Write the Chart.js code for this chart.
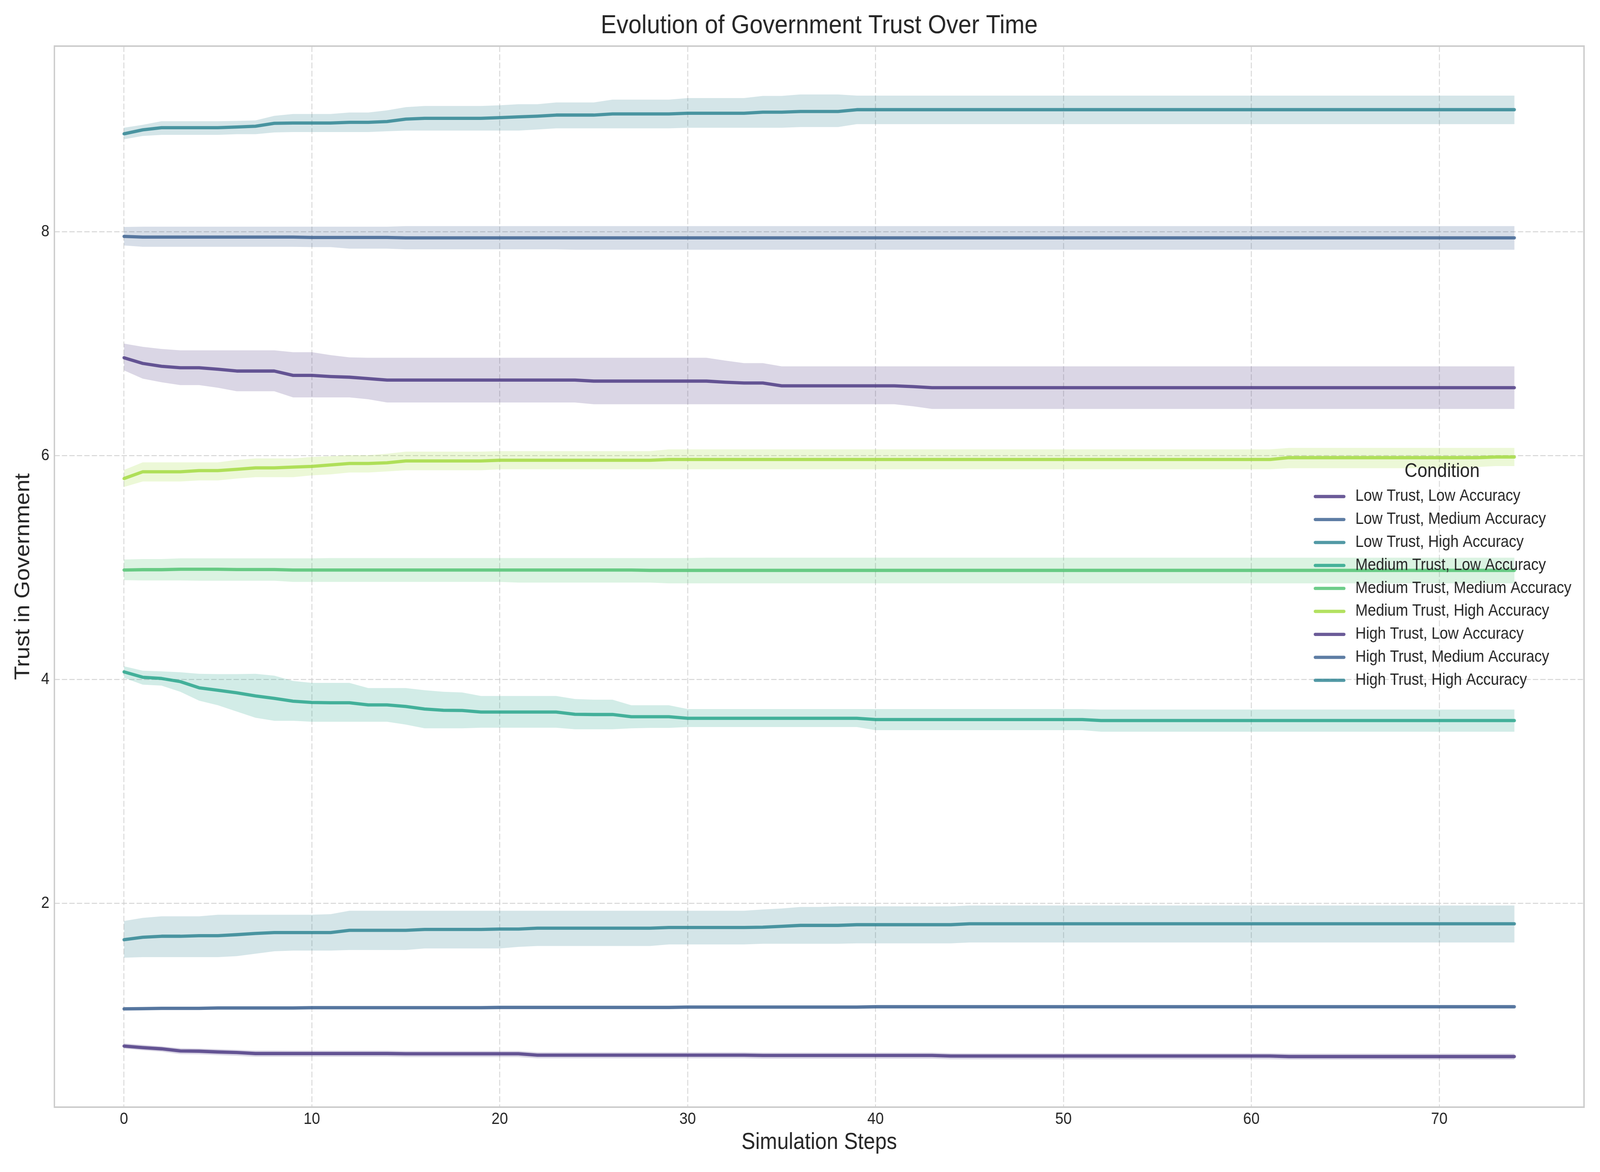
<!DOCTYPE html>
<html>
<head>
<meta charset="utf-8">
<title>Evolution of Government Trust Over Time</title>
<script src="https://cdn.jsdelivr.net/npm/chart.js@4.4.1/dist/chart.umd.min.js"></script>
<style>
  html, body { margin: 0; padding: 0; background: #ffffff; overflow: hidden; }
  /* drawn at 4500x3000, shown across the whole viewport */
  #trustChart { display: block; width: 100vw !important; height: 100vh !important; }
</style>
</head>
<body>
<canvas id="trustChart" width="4500" height="3000" style="width:100vw;height:100vh"></canvas>
<script>
// Simulation steps (x values)
const steps = [
    0, 1, 2, 3, 4, 5, 6, 7, 8, 9, 10, 11, 12, 13, 14,
    15, 16, 17, 18, 19, 20, 21, 22, 23, 24, 25, 26, 27, 28, 29,
    30, 31, 32, 33, 34, 35, 36, 37, 38, 39, 40, 41, 42, 43, 44,
    45, 46, 47, 48, 49, 50, 51, 52, 53, 54, 55, 56, 57, 58, 59,
    60, 61, 62, 63, 64, 65, 66, 67, 68, 69, 70, 71, 72, 73, 74
];

const xTicks = [0, 10, 20, 30, 40, 50, 60, 70];
const yTicks = [2, 4, 6, 8];

const conditions = [
    'Low Trust, Low Accuracy',
    'Low Trust, Medium Accuracy',
    'Low Trust, High Accuracy',
    'Medium Trust, Low Accuracy',
    'Medium Trust, Medium Accuracy',
    'Medium Trust, High Accuracy',
    'High Trust, Low Accuracy',
    'High Trust, Medium Accuracy',
    'High Trust, High Accuracy'
];

// Low Trust, Low Accuracy
const lowLowMean = [
    0.724, 0.710, 0.699, 0.680, 0.678, 0.671, 0.666, 0.657, 0.657, 0.657, 0.657, 0.657, 0.657, 0.657, 0.657,
    0.655, 0.655, 0.655, 0.655, 0.655, 0.655, 0.655, 0.643, 0.643, 0.643, 0.643, 0.643, 0.643, 0.643, 0.643,
    0.643, 0.643, 0.643, 0.643, 0.640, 0.640, 0.640, 0.640, 0.640, 0.640, 0.640, 0.640, 0.640, 0.640, 0.635,
    0.635, 0.635, 0.635, 0.635, 0.635, 0.635, 0.635, 0.635, 0.635, 0.635, 0.635, 0.635, 0.635, 0.635, 0.635,
    0.635, 0.635, 0.630, 0.630, 0.630, 0.630, 0.630, 0.630, 0.630, 0.630, 0.630, 0.630, 0.630, 0.630, 0.630
];
const lowLowUpper = [
    0.748, 0.735, 0.722, 0.705, 0.702, 0.696, 0.690, 0.683, 0.683, 0.682, 0.682, 0.682, 0.682, 0.682, 0.682,
    0.680, 0.680, 0.680, 0.680, 0.680, 0.680, 0.680, 0.668, 0.668, 0.668, 0.668, 0.668, 0.668, 0.668, 0.668,
    0.668, 0.668, 0.668, 0.668, 0.665, 0.665, 0.665, 0.665, 0.665, 0.665, 0.665, 0.665, 0.665, 0.665, 0.660,
    0.660, 0.660, 0.660, 0.660, 0.660, 0.660, 0.660, 0.660, 0.660, 0.660, 0.660, 0.660, 0.660, 0.660, 0.660,
    0.660, 0.660, 0.656, 0.656, 0.656, 0.656, 0.656, 0.656, 0.656, 0.656, 0.656, 0.656, 0.656, 0.656, 0.656
];
const lowLowLower = [
    0.702, 0.686, 0.674, 0.652, 0.650, 0.643, 0.637, 0.628, 0.628, 0.628, 0.628, 0.628, 0.628, 0.628, 0.628,
    0.626, 0.626, 0.626, 0.626, 0.626, 0.626, 0.626, 0.614, 0.614, 0.614, 0.614, 0.614, 0.614, 0.614, 0.614,
    0.614, 0.614, 0.614, 0.614, 0.611, 0.611, 0.611, 0.611, 0.611, 0.611, 0.611, 0.611, 0.611, 0.611, 0.606,
    0.606, 0.606, 0.606, 0.606, 0.606, 0.606, 0.606, 0.606, 0.606, 0.606, 0.606, 0.606, 0.606, 0.606, 0.606,
    0.606, 0.606, 0.602, 0.602, 0.602, 0.602, 0.602, 0.602, 0.602, 0.602, 0.602, 0.602, 0.602, 0.602, 0.602
];

// Low Trust, Medium Accuracy
const lowMedMean = [
    1.056, 1.058, 1.061, 1.061, 1.061, 1.064, 1.064, 1.064, 1.064, 1.064, 1.067, 1.067, 1.067, 1.067, 1.067,
    1.067, 1.067, 1.067, 1.067, 1.067, 1.069, 1.069, 1.069, 1.069, 1.069, 1.069, 1.069, 1.069, 1.069, 1.069,
    1.072, 1.072, 1.072, 1.072, 1.072, 1.072, 1.072, 1.072, 1.072, 1.072, 1.075, 1.075, 1.075, 1.075, 1.075,
    1.075, 1.075, 1.075, 1.075, 1.075, 1.075, 1.075, 1.075, 1.075, 1.075, 1.075, 1.075, 1.075, 1.075, 1.075,
    1.075, 1.075, 1.075, 1.075, 1.075, 1.075, 1.075, 1.075, 1.075, 1.075, 1.075, 1.075, 1.075, 1.075, 1.075
];
const lowMedUpper = [
    1.072, 1.074, 1.077, 1.077, 1.077, 1.080, 1.080, 1.080, 1.080, 1.080, 1.083, 1.083, 1.083, 1.083, 1.083,
    1.083, 1.083, 1.083, 1.083, 1.083, 1.085, 1.085, 1.085, 1.085, 1.085, 1.085, 1.085, 1.085, 1.085, 1.085,
    1.088, 1.088, 1.088, 1.088, 1.088, 1.088, 1.088, 1.088, 1.088, 1.088, 1.091, 1.091, 1.091, 1.091, 1.091,
    1.091, 1.091, 1.091, 1.091, 1.091, 1.091, 1.091, 1.091, 1.091, 1.091, 1.091, 1.091, 1.091, 1.091, 1.091,
    1.091, 1.091, 1.091, 1.091, 1.091, 1.091, 1.091, 1.091, 1.091, 1.091, 1.091, 1.091, 1.091, 1.091, 1.091
];
const lowMedLower = [
    1.040, 1.042, 1.045, 1.045, 1.045, 1.048, 1.048, 1.048, 1.048, 1.048, 1.051, 1.051, 1.051, 1.051, 1.051,
    1.051, 1.051, 1.051, 1.051, 1.051, 1.053, 1.053, 1.053, 1.053, 1.053, 1.053, 1.053, 1.053, 1.053, 1.053,
    1.056, 1.056, 1.056, 1.056, 1.056, 1.056, 1.056, 1.056, 1.056, 1.056, 1.059, 1.059, 1.059, 1.059, 1.059,
    1.059, 1.059, 1.059, 1.059, 1.059, 1.059, 1.059, 1.059, 1.059, 1.059, 1.059, 1.059, 1.059, 1.059, 1.059,
    1.059, 1.059, 1.059, 1.059, 1.059, 1.059, 1.059, 1.059, 1.059, 1.059, 1.059, 1.059, 1.059, 1.059, 1.059
];

// Low Trust, High Accuracy
const lowHighMean = [
    1.674, 1.696, 1.705, 1.705, 1.710, 1.710, 1.719, 1.730, 1.738, 1.738, 1.738, 1.738, 1.758, 1.758, 1.758,
    1.758, 1.766, 1.766, 1.766, 1.766, 1.769, 1.769, 1.777, 1.777, 1.777, 1.777, 1.777, 1.777, 1.777, 1.783,
    1.783, 1.783, 1.783, 1.783, 1.786, 1.794, 1.802, 1.802, 1.802, 1.808, 1.808, 1.808, 1.808, 1.808, 1.808,
    1.816, 1.816, 1.816, 1.816, 1.816, 1.816, 1.816, 1.816, 1.816, 1.816, 1.816, 1.816, 1.816, 1.816, 1.816,
    1.816, 1.816, 1.816, 1.816, 1.816, 1.816, 1.816, 1.816, 1.816, 1.816, 1.816, 1.816, 1.816, 1.816, 1.816
];
const lowHighUpper = [
    1.841, 1.869, 1.883, 1.883, 1.883, 1.897, 1.897, 1.897, 1.897, 1.897, 1.897, 1.902, 1.933, 1.933, 1.933,
    1.933, 1.933, 1.933, 1.933, 1.933, 1.933, 1.933, 1.933, 1.933, 1.933, 1.933, 1.933, 1.933, 1.933, 1.933,
    1.933, 1.933, 1.933, 1.933, 1.944, 1.953, 1.967, 1.967, 1.972, 1.972, 1.972, 1.972, 1.972, 1.972, 1.972,
    1.980, 1.980, 1.980, 1.980, 1.980, 1.980, 1.980, 1.980, 1.980, 1.980, 1.980, 1.980, 1.980, 1.980, 1.980,
    1.980, 1.980, 1.980, 1.980, 1.980, 1.980, 1.980, 1.980, 1.980, 1.980, 1.980, 1.980, 1.980, 1.980, 1.980
];
const lowHighLower = [
    1.513, 1.518, 1.518, 1.518, 1.518, 1.518, 1.527, 1.549, 1.571, 1.577, 1.577, 1.577, 1.582, 1.582, 1.582,
    1.582, 1.596, 1.596, 1.596, 1.596, 1.596, 1.610, 1.618, 1.618, 1.618, 1.618, 1.618, 1.618, 1.618, 1.632,
    1.632, 1.632, 1.632, 1.632, 1.638, 1.638, 1.638, 1.638, 1.638, 1.641, 1.641, 1.641, 1.641, 1.641, 1.641,
    1.649, 1.649, 1.649, 1.649, 1.649, 1.649, 1.649, 1.649, 1.649, 1.649, 1.649, 1.649, 1.649, 1.649, 1.649,
    1.649, 1.649, 1.649, 1.649, 1.649, 1.649, 1.649, 1.649, 1.649, 1.649, 1.649, 1.649, 1.649, 1.649, 1.649
];

// Medium Trust, Low Accuracy
const medLowMean = [
    4.067, 4.019, 4.008, 3.980, 3.925, 3.903, 3.880, 3.852, 3.830, 3.805, 3.794, 3.791, 3.791, 3.772, 3.772,
    3.758, 3.735, 3.724, 3.722, 3.708, 3.708, 3.708, 3.708, 3.708, 3.688, 3.686, 3.686, 3.666, 3.666, 3.666,
    3.652, 3.652, 3.652, 3.652, 3.652, 3.652, 3.652, 3.652, 3.652, 3.652, 3.641, 3.641, 3.641, 3.641, 3.641,
    3.641, 3.641, 3.641, 3.641, 3.641, 3.641, 3.641, 3.632, 3.632, 3.632, 3.632, 3.632, 3.632, 3.632, 3.632,
    3.632, 3.632, 3.632, 3.632, 3.632, 3.632, 3.632, 3.632, 3.632, 3.632, 3.632, 3.632, 3.632, 3.632, 3.632
];
const medLowUpper = [
    4.117, 4.078, 4.072, 4.064, 4.050, 4.047, 4.047, 4.050, 4.033, 3.986, 3.969, 3.969, 3.969, 3.922, 3.922,
    3.922, 3.903, 3.889, 3.883, 3.852, 3.852, 3.852, 3.852, 3.852, 3.825, 3.819, 3.819, 3.769, 3.769, 3.769,
    3.735, 3.735, 3.735, 3.735, 3.735, 3.735, 3.735, 3.735, 3.735, 3.735, 3.735, 3.735, 3.735, 3.735, 3.735,
    3.735, 3.735, 3.735, 3.735, 3.735, 3.735, 3.735, 3.730, 3.730, 3.730, 3.730, 3.730, 3.730, 3.730, 3.730,
    3.730, 3.730, 3.730, 3.730, 3.730, 3.730, 3.730, 3.730, 3.730, 3.730, 3.730, 3.730, 3.730, 3.730, 3.730
];
const medLowLower = [
    4.014, 3.953, 3.944, 3.889, 3.810, 3.769, 3.713, 3.657, 3.630, 3.630, 3.621, 3.621, 3.621, 3.621, 3.621,
    3.596, 3.563, 3.563, 3.563, 3.568, 3.568, 3.568, 3.568, 3.568, 3.554, 3.554, 3.554, 3.563, 3.566, 3.566,
    3.574, 3.574, 3.574, 3.574, 3.574, 3.574, 3.574, 3.574, 3.574, 3.574, 3.546, 3.546, 3.546, 3.546, 3.546,
    3.546, 3.546, 3.546, 3.546, 3.546, 3.546, 3.546, 3.532, 3.532, 3.532, 3.532, 3.532, 3.532, 3.532, 3.532,
    3.532, 3.532, 3.532, 3.532, 3.532, 3.532, 3.532, 3.532, 3.532, 3.532, 3.532, 3.532, 3.532, 3.532, 3.532
];

// Medium Trust, Medium Accuracy
const medMedMean = [
    4.977, 4.980, 4.980, 4.984, 4.984, 4.984, 4.981, 4.981, 4.981, 4.977, 4.977, 4.977, 4.977, 4.977, 4.977,
    4.977, 4.977, 4.977, 4.977, 4.977, 4.977, 4.977, 4.977, 4.977, 4.977, 4.977, 4.977, 4.977, 4.974, 4.974,
    4.974, 4.974, 4.974, 4.974, 4.974, 4.974, 4.974, 4.974, 4.974, 4.974, 4.974, 4.974, 4.974, 4.974, 4.974,
    4.974, 4.974, 4.974, 4.974, 4.974, 4.974, 4.974, 4.974, 4.974, 4.974, 4.974, 4.974, 4.974, 4.974, 4.974,
    4.974, 4.974, 4.974, 4.974, 4.974, 4.974, 4.974, 4.974, 4.974, 4.974, 4.974, 4.974, 4.974, 4.974, 4.974
];
const medMedUpper = [
    5.071, 5.075, 5.075, 5.081, 5.081, 5.081, 5.081, 5.081, 5.081, 5.081, 5.081, 5.084, 5.084, 5.084, 5.084,
    5.084, 5.084, 5.084, 5.084, 5.084, 5.084, 5.084, 5.084, 5.084, 5.084, 5.084, 5.084, 5.084, 5.084, 5.084,
    5.084, 5.087, 5.087, 5.087, 5.087, 5.087, 5.087, 5.087, 5.087, 5.087, 5.087, 5.087, 5.087, 5.087, 5.087,
    5.087, 5.087, 5.087, 5.087, 5.087, 5.087, 5.087, 5.087, 5.087, 5.087, 5.087, 5.087, 5.087, 5.087, 5.087,
    5.087, 5.087, 5.087, 5.087, 5.087, 5.087, 5.087, 5.087, 5.087, 5.087, 5.087, 5.087, 5.087, 5.087, 5.087
];
const medMedLower = [
    4.887, 4.884, 4.884, 4.884, 4.881, 4.881, 4.881, 4.881, 4.881, 4.871, 4.871, 4.871, 4.871, 4.871, 4.871,
    4.871, 4.871, 4.871, 4.871, 4.871, 4.871, 4.865, 4.865, 4.865, 4.865, 4.865, 4.865, 4.865, 4.865, 4.858,
    4.858, 4.858, 4.858, 4.858, 4.858, 4.858, 4.858, 4.858, 4.858, 4.858, 4.858, 4.858, 4.858, 4.858, 4.858,
    4.858, 4.858, 4.858, 4.858, 4.858, 4.858, 4.858, 4.858, 4.858, 4.858, 4.858, 4.858, 4.858, 4.858, 4.858,
    4.858, 4.858, 4.858, 4.858, 4.858, 4.858, 4.858, 4.858, 4.858, 4.858, 4.858, 4.858, 4.858, 4.858, 4.858
];

// Medium Trust, High Accuracy
const medHighMean = [
    5.794, 5.855, 5.855, 5.855, 5.865, 5.865, 5.877, 5.890, 5.890, 5.897, 5.903, 5.916, 5.929, 5.929, 5.935,
    5.952, 5.952, 5.952, 5.952, 5.952, 5.958, 5.958, 5.958, 5.958, 5.958, 5.958, 5.958, 5.958, 5.958, 5.965,
    5.965, 5.965, 5.965, 5.965, 5.965, 5.965, 5.965, 5.965, 5.965, 5.965, 5.965, 5.965, 5.965, 5.965, 5.965,
    5.965, 5.965, 5.965, 5.965, 5.965, 5.965, 5.965, 5.965, 5.965, 5.965, 5.965, 5.965, 5.965, 5.965, 5.965,
    5.965, 5.965, 5.981, 5.981, 5.981, 5.981, 5.981, 5.981, 5.981, 5.981, 5.981, 5.981, 5.981, 5.987, 5.987
];
const medHighUpper = [
    5.871, 5.939, 5.939, 5.939, 5.939, 5.939, 5.961, 5.974, 5.974, 5.974, 5.987, 5.994, 6.003, 6.003, 6.016,
    6.035, 6.035, 6.035, 6.035, 6.035, 6.039, 6.039, 6.039, 6.039, 6.039, 6.039, 6.039, 6.039, 6.039, 6.055,
    6.055, 6.055, 6.055, 6.055, 6.055, 6.055, 6.055, 6.055, 6.055, 6.055, 6.055, 6.055, 6.055, 6.055, 6.055,
    6.055, 6.055, 6.055, 6.055, 6.055, 6.055, 6.055, 6.055, 6.055, 6.055, 6.055, 6.055, 6.055, 6.055, 6.055,
    6.055, 6.055, 6.068, 6.068, 6.068, 6.068, 6.068, 6.068, 6.068, 6.068, 6.068, 6.068, 6.068, 6.068, 6.068
];
const medHighLower = [
    5.719, 5.768, 5.768, 5.768, 5.778, 5.778, 5.794, 5.806, 5.806, 5.806, 5.823, 5.832, 5.848, 5.848, 5.858,
    5.868, 5.868, 5.868, 5.868, 5.868, 5.877, 5.877, 5.877, 5.877, 5.877, 5.877, 5.877, 5.877, 5.877, 5.877,
    5.877, 5.877, 5.877, 5.877, 5.877, 5.877, 5.877, 5.877, 5.877, 5.877, 5.877, 5.877, 5.877, 5.877, 5.877,
    5.877, 5.877, 5.877, 5.877, 5.877, 5.877, 5.877, 5.877, 5.877, 5.877, 5.877, 5.877, 5.877, 5.877, 5.877,
    5.877, 5.877, 5.887, 5.887, 5.887, 5.887, 5.887, 5.887, 5.887, 5.887, 5.887, 5.887, 5.897, 5.906, 5.906
];

// High Trust, Low Accuracy
const highLowMean = [
    6.874, 6.823, 6.797, 6.784, 6.784, 6.771, 6.755, 6.755, 6.755, 6.716, 6.716, 6.706, 6.700, 6.687, 6.674,
    6.674, 6.674, 6.674, 6.674, 6.674, 6.674, 6.674, 6.674, 6.674, 6.674, 6.665, 6.665, 6.665, 6.665, 6.665,
    6.665, 6.665, 6.655, 6.648, 6.648, 6.623, 6.623, 6.623, 6.623, 6.623, 6.623, 6.623, 6.616, 6.606, 6.606,
    6.606, 6.606, 6.606, 6.606, 6.606, 6.606, 6.606, 6.606, 6.606, 6.606, 6.606, 6.606, 6.606, 6.606, 6.606,
    6.606, 6.606, 6.606, 6.606, 6.606, 6.606, 6.606, 6.606, 6.606, 6.606, 6.606, 6.606, 6.606, 6.606, 6.606
];
const highLowUpper = [
    7.000, 6.971, 6.952, 6.940, 6.940, 6.940, 6.940, 6.940, 6.940, 6.923, 6.923, 6.897, 6.877, 6.874, 6.874,
    6.874, 6.874, 6.874, 6.874, 6.874, 6.874, 6.874, 6.874, 6.874, 6.874, 6.874, 6.874, 6.874, 6.874, 6.874,
    6.874, 6.874, 6.848, 6.826, 6.826, 6.797, 6.797, 6.797, 6.797, 6.797, 6.797, 6.797, 6.797, 6.797, 6.797,
    6.797, 6.797, 6.797, 6.797, 6.797, 6.797, 6.797, 6.797, 6.797, 6.797, 6.797, 6.797, 6.797, 6.797, 6.797,
    6.797, 6.797, 6.797, 6.797, 6.797, 6.797, 6.797, 6.797, 6.797, 6.797, 6.797, 6.797, 6.797, 6.797, 6.797
];
const highLowLower = [
    6.761, 6.687, 6.655, 6.629, 6.629, 6.606, 6.574, 6.574, 6.574, 6.519, 6.519, 6.519, 6.519, 6.503, 6.474,
    6.474, 6.474, 6.474, 6.474, 6.474, 6.474, 6.474, 6.474, 6.474, 6.474, 6.458, 6.458, 6.458, 6.458, 6.458,
    6.458, 6.458, 6.458, 6.458, 6.458, 6.458, 6.458, 6.458, 6.458, 6.458, 6.458, 6.458, 6.440, 6.416, 6.416,
    6.416, 6.416, 6.416, 6.416, 6.416, 6.416, 6.416, 6.416, 6.416, 6.416, 6.416, 6.416, 6.416, 6.416, 6.416,
    6.416, 6.416, 6.416, 6.416, 6.416, 6.416, 6.416, 6.416, 6.416, 6.416, 6.416, 6.416, 6.416, 6.416, 6.416
];

// High Trust, Medium Accuracy
const highMedMean = [
    7.958, 7.952, 7.952, 7.952, 7.952, 7.952, 7.952, 7.952, 7.952, 7.952, 7.948, 7.948, 7.948, 7.948, 7.948,
    7.945, 7.945, 7.945, 7.945, 7.945, 7.945, 7.945, 7.945, 7.945, 7.945, 7.945, 7.945, 7.945, 7.945, 7.945,
    7.945, 7.945, 7.945, 7.945, 7.945, 7.945, 7.945, 7.945, 7.945, 7.945, 7.945, 7.945, 7.945, 7.945, 7.945,
    7.945, 7.945, 7.945, 7.945, 7.945, 7.945, 7.945, 7.945, 7.945, 7.945, 7.945, 7.945, 7.945, 7.945, 7.945,
    7.945, 7.945, 7.945, 7.945, 7.945, 7.945, 7.945, 7.945, 7.945, 7.945, 7.945, 7.945, 7.945, 7.945, 7.945
];
const highMedUpper = [
    8.042, 8.045, 8.045, 8.045, 8.045, 8.045, 8.045, 8.045, 8.045, 8.045, 8.045, 8.045, 8.045, 8.045, 8.045,
    8.050, 8.050, 8.050, 8.050, 8.050, 8.050, 8.050, 8.050, 8.050, 8.050, 8.050, 8.050, 8.050, 8.050, 8.050,
    8.050, 8.050, 8.050, 8.050, 8.050, 8.050, 8.050, 8.050, 8.050, 8.050, 8.050, 8.050, 8.050, 8.050, 8.050,
    8.050, 8.050, 8.050, 8.050, 8.050, 8.050, 8.050, 8.050, 8.050, 8.050, 8.050, 8.050, 8.050, 8.050, 8.050,
    8.050, 8.050, 8.050, 8.050, 8.050, 8.050, 8.050, 8.050, 8.050, 8.050, 8.050, 8.050, 8.050, 8.050, 8.050
];
const highMedLower = [
    7.877, 7.865, 7.865, 7.865, 7.865, 7.865, 7.865, 7.865, 7.865, 7.865, 7.862, 7.862, 7.848, 7.848, 7.848,
    7.842, 7.842, 7.842, 7.842, 7.842, 7.842, 7.842, 7.842, 7.842, 7.839, 7.839, 7.839, 7.839, 7.839, 7.839,
    7.839, 7.839, 7.839, 7.839, 7.839, 7.839, 7.839, 7.839, 7.839, 7.839, 7.839, 7.839, 7.839, 7.839, 7.839,
    7.839, 7.839, 7.839, 7.839, 7.839, 7.839, 7.839, 7.839, 7.839, 7.839, 7.839, 7.839, 7.839, 7.839, 7.839,
    7.839, 7.839, 7.839, 7.839, 7.839, 7.839, 7.839, 7.839, 7.839, 7.839, 7.839, 7.839, 7.839, 7.839, 7.839
];

// High Trust, High Accuracy
const highHighMean = [
    8.874, 8.910, 8.929, 8.929, 8.929, 8.929, 8.935, 8.942, 8.968, 8.971, 8.971, 8.971, 8.977, 8.977, 8.984,
    9.006, 9.013, 9.013, 9.013, 9.013, 9.019, 9.026, 9.032, 9.042, 9.042, 9.042, 9.052, 9.052, 9.052, 9.052,
    9.058, 9.058, 9.058, 9.058, 9.068, 9.068, 9.074, 9.074, 9.074, 9.090, 9.090, 9.090, 9.090, 9.090, 9.090,
    9.090, 9.090, 9.090, 9.090, 9.090, 9.090, 9.090, 9.090, 9.090, 9.090, 9.090, 9.090, 9.090, 9.090, 9.090,
    9.090, 9.090, 9.090, 9.090, 9.090, 9.090, 9.090, 9.090, 9.090, 9.090, 9.090, 9.090, 9.090, 9.090, 9.090
];
const highHighUpper = [
    8.929, 8.955, 8.987, 8.987, 8.987, 8.987, 8.990, 8.994, 9.035, 9.052, 9.052, 9.052, 9.065, 9.065, 9.084,
    9.113, 9.123, 9.123, 9.123, 9.123, 9.129, 9.139, 9.139, 9.155, 9.155, 9.155, 9.180, 9.180, 9.180, 9.180,
    9.194, 9.194, 9.194, 9.194, 9.213, 9.213, 9.226, 9.226, 9.226, 9.216, 9.216, 9.216, 9.216, 9.216, 9.216,
    9.216, 9.216, 9.216, 9.216, 9.216, 9.216, 9.216, 9.216, 9.216, 9.216, 9.216, 9.216, 9.216, 9.216, 9.216,
    9.216, 9.216, 9.216, 9.216, 9.216, 9.216, 9.216, 9.216, 9.216, 9.216, 9.216, 9.216, 9.216, 9.216, 9.216
];
const highHighLower = [
    8.826, 8.855, 8.865, 8.865, 8.865, 8.865, 8.871, 8.871, 8.887, 8.890, 8.890, 8.890, 8.890, 8.890, 8.897,
    8.903, 8.903, 8.903, 8.903, 8.903, 8.903, 8.903, 8.913, 8.923, 8.923, 8.923, 8.923, 8.923, 8.923, 8.923,
    8.929, 8.929, 8.929, 8.929, 8.929, 8.929, 8.935, 8.935, 8.935, 8.961, 8.961, 8.961, 8.961, 8.961, 8.961,
    8.961, 8.961, 8.961, 8.961, 8.961, 8.961, 8.961, 8.961, 8.961, 8.961, 8.961, 8.961, 8.961, 8.961, 8.961,
    8.961, 8.961, 8.961, 8.961, 8.961, 8.961, 8.961, 8.961, 8.961, 8.961, 8.961, 8.961, 8.961, 8.961, 8.961
];

const meanSeries = [lowLowMean, lowMedMean, lowHighMean, medLowMean, medMedMean, medHighMean, highLowMean, highMedMean, highHighMean];
const upperSeries = [lowLowUpper, lowMedUpper, lowHighUpper, medLowUpper, medMedUpper, medHighUpper, highLowUpper, highMedUpper, highHighUpper];
const lowerSeries = [lowLowLower, lowMedLower, lowHighLower, medLowLower, medMedLower, medHighLower, highLowLower, highMedLower, highHighLower];

// viridis palette, 6 colours, cycled
const palette = ['#46327e', '#365c8d', '#277f8e', '#1fa187', '#4ac16d', '#a0da39'];

const FONT = '"Liberation Sans", Arial, Helvetica, sans-serif';
const TEXT = '#262626';

function withAlpha(hex, a) {
    const r = parseInt(hex.slice(1, 3), 16);
    const g = parseInt(hex.slice(3, 5), 16);
    const b = parseInt(hex.slice(5, 7), 16);
    return `rgba(${r}, ${g}, ${b}, ${a})`;
}

function colorFor(i) {
    return palette[i % palette.length];
}

// Build datasets: lower bound, upper bound (filled to lower), mean line
const datasets = [];
conditions.forEach(function(name, i) {
    datasets.push({
        label: name + ' (lower)',
        data: lowerSeries[i],
        borderColor: 'rgba(0,0,0,0)',
        borderWidth: 0,
        pointRadius: 0,
        fill: false,
        order: 50
    });
    datasets.push({
        label: name + ' (upper)',
        data: upperSeries[i],
        borderColor: 'rgba(0,0,0,0)',
        borderWidth: 0,
        pointRadius: 0,
        fill: '-1',
        backgroundColor: withAlpha(colorFor(i), 0.2),
        order: 50
    });
    datasets.push({
        label: name,
        data: meanSeries[i],
        borderColor: withAlpha(colorFor(i), 0.8),
        borderWidth: 8.3,
        borderCapStyle: 'round',
        borderJoinStyle: 'round',
        pointRadius: 0,
        fill: false,
        order: -i
    });
});

// Axes frame (all four spines)
const axesFrame = {
    id: 'axesFrame',
    afterDatasetsDraw: function(chart) {
        const ctx = chart.ctx;
        const a = chart.chartArea;
        ctx.save();
        ctx.strokeStyle = '#cccccc';
        ctx.lineWidth = 4;
        ctx.strokeRect(a.left, a.top, a.right - a.left, a.bottom - a.top);
        ctx.restore();
    }
};

// Legend drawn inside the plot, centre right, no frame
const conditionLegend = {
    id: 'conditionLegend',
    afterDraw: function(chart) {
        const ctx = chart.ctx;
        ctx.save();
        ctx.fillStyle = TEXT;
        ctx.textBaseline = 'middle';
        ctx.textAlign = 'center';
        ctx.font = '50px ' + FONT;
        ctx.fillText('Condition', 4056, 1207);

        ctx.font = '41.7px ' + FONT;
        ctx.textAlign = 'left';
        conditions.forEach(function(name, i) {
            const y = 1271 + i * 58.8;
            ctx.strokeStyle = withAlpha(colorFor(i), 0.8);
            ctx.lineWidth = 8.3;
            ctx.lineCap = 'round';
            ctx.beginPath();
            ctx.moveTo(3699, y);
            ctx.lineTo(3780, y);
            ctx.stroke();
            ctx.fillStyle = TEXT;
            ctx.fillText(name, 3812, y);
        });
        ctx.restore();
    }
};

Chart.defaults.font.family = FONT;
Chart.defaults.color = TEXT;

const ctx = document.getElementById('trustChart').getContext('2d');
const trustChart = new Chart(ctx, {
    type: 'line',
    data: {
        labels: steps,
        datasets: datasets
    },
    options: {
        responsive: false,
        devicePixelRatio: 1,
        animation: false,
        events: [],
        layout: {
            padding: { left: 0, right: 45, top: 0, bottom: 0 }
        },
        elements: {
            line: { tension: 0 }
        },
        scales: {
            x: {
                type: 'linear',
                min: -3.7,
                max: 77.7,
                afterBuildTicks: function(scale) {
                    scale.ticks = xTicks.map(v => ({ value: v }));
                },
                afterFit: function(scale) {
                    scale.height = 166;
                },
                grid: {
                    color: 'rgba(204, 204, 204, 0.8)',
                    lineWidth: 2.5,
                    drawTicks: false
                },
                border: { display: false, dash: [15, 6] },
                ticks: {
                    color: TEXT,
                    padding: 6,
                    maxRotation: 0,
                    font: { size: 41.7 }
                },
                title: {
                    display: true,
                    text: 'Simulation Steps',
                    color: TEXT,
                    font: { size: 58.3 },
                    padding: { top: 0, bottom: 40 }
                }
            },
            y: {
                type: 'linear',
                min: 0.178,
                max: 9.658,
                afterBuildTicks: function(scale) {
                    scale.ticks = yTicks.map(v => ({ value: v }));
                },
                afterFit: function(scale) {
                    scale.width = 153;
                },
                grid: {
                    color: 'rgba(204, 204, 204, 0.8)',
                    lineWidth: 2.5,
                    drawTicks: false
                },
                border: { display: false, dash: [15, 6] },
                ticks: {
                    color: TEXT,
                    padding: 14,
                    font: { size: 41.7 }
                },
                title: {
                    display: true,
                    text: 'Trust in Government',
                    color: TEXT,
                    font: { size: 58.3 },
                    padding: { top: 31, bottom: 0 }
                }
            }
        },
        plugins: {
            legend: { display: false },
            tooltip: { enabled: false },
            title: {
                display: true,
                text: 'Evolution of Government Trust Over Time',
                color: TEXT,
                fullSize: false,
                font: { size: 66.7, weight: 'normal' },
                padding: { top: 27, bottom: 11 }
            }
        }
    },
    plugins: [axesFrame, conditionLegend]
});
</script>
</body>
</html>
